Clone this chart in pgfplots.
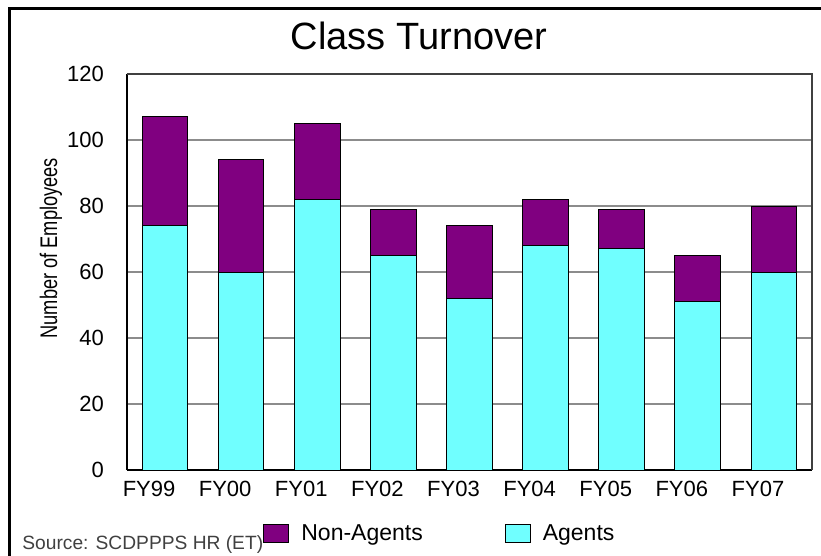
\documentclass[border=0pt]{standalone}
\usepackage{fontspec}
\setmainfont{Liberation Sans}
\newfontfamily\narrowfont[FakeStretch=0.76]{Liberation Sans}
\usepackage{pgfplots}
\usepackage{pgfplotstable}
\pgfplotsset{compat=1.18}

\definecolor{agents}{HTML}{70FFFF}
\definecolor{nonagents}{HTML}{800080}
\definecolor{gridgray}{HTML}{8C8C8C}

% class turnover, number of employees per fiscal year
\pgfplotstableread{
idx year agents nonagents
0   FY99 74     33
1   FY00 60     34
2   FY01 82     23
3   FY02 65     14
4   FY03 52     22
5   FY04 68     14
6   FY05 67     12
7   FY06 51     14
8   FY07 60     20
}\turnover

\begin{document}
\begin{tikzpicture}
\path[use as bounding box] (0,0) rectangle (410.5pt,-278pt);
\draw[line width=1.5pt] (4.5pt,-282pt) -- (4.5pt,-4.5pt) -- (414pt,-4.5pt);
\node[font=\fontsize{19}{22}\selectfont] at (209.5pt,-17.8pt) {Class Turnover};
\node[anchor=base west, inner sep=0pt, text=black!75, font=\fontsize{9.6}{11}\selectfont]
  at (11pt,-275pt) {Source: SCDPPPS HR (ET)};
\begin{axis}[
    at={(63.5pt,-235pt)}, anchor=south west,
    scale only axis, width=342.5pt, height=198pt,
    ybar stacked, bar width=0.6,
    xmin=-0.5, xmax=8.5,
    ymin=0, ymax=120, ytick={0,20,...,120},
    xtick=data, xticklabels from table={\turnover}{year},
    major tick length=0pt,
    axis lines*=left,
    axis line style={black, line width=1.3pt, -},
    ymajorgrids, grid style={gridgray, line width=1pt},
    /pgf/number format/assume math mode=true,
    xticklabel style={font=\fontsize{11}{13}\selectfont, xshift=-8pt, yshift=-2pt},
    yticklabel style={font=\fontsize{11}{13}\selectfont, xshift=-8pt},
    ylabel={\narrowfont Number of Employees},
    ylabel style={at={(axis description cs:-0.111,0.56)}, anchor=center,
      font=\fontsize{12}{14}\selectfont},
    legend style={at={(axis description cs:0.1985,-0.1616)}, anchor=west,
      draw=none, fill=none, inner sep=0pt,
      font=\fontsize{11.5}{13}\selectfont,
      /tikz/every odd column/.append style={column sep=4pt},
      /tikz/every even column/.append style={column sep=39pt}},
    legend columns=2,
    legend image code/.code={\draw[#1] (0pt,-4.5pt) rectangle (12.5pt,4.5pt);},
    after end axis/.code={
      \draw[black!75, line width=0.8pt] (rel axis cs:0,1) -- (rel axis cs:1,1) -- (rel axis cs:1,0);
    },
]
\addlegendimage{fill=nonagents, draw=black, line width=0.5pt}
\addlegendimage{fill=agents, draw=black, line width=0.5pt}
\addplot[fill=agents, draw=black, line width=0.5pt] table[x=idx, y=agents] {\turnover};
\addplot[fill=nonagents, draw=black, line width=0.5pt] table[x=idx, y=nonagents] {\turnover};
\legend{Non-Agents, Agents}
\end{axis}
\end{tikzpicture}
\end{document}
